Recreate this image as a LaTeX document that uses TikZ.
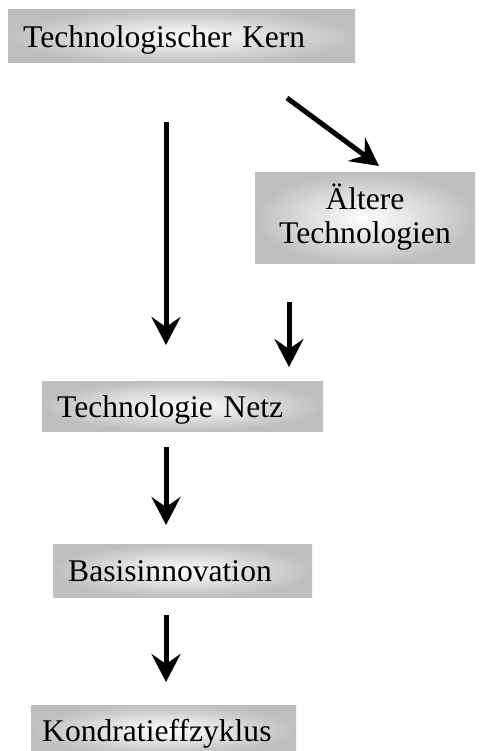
\documentclass[tikz,border=0pt]{standalone}
\usepackage{fontspec}
\setmainfont{Liberation Serif}
\usetikzlibrary{arrows.meta}
\begin{document}
\begin{tikzpicture}[x=1pt,y=-1pt,
    stage/.style ={rectangle, inner color=white, outer color=gray!50, inner xsep=15pt, inner ysep=0pt,
      anchor=west, align=left, text height=29pt, text depth=7pt, font=\fontsize{31.6}{34}\selectfont},
    flow/.style ={line width=5pt, -{Stealth[length=28pt,width=29pt,inset=10pt]}}]
   \useasboundingbox (0,0) rectangle (484,751);
   \node[stage, text width=317pt, minimum height=53pt] (kern) at (8,36.5) {Technologischer Kern};
   \node[stage, anchor=center, align=center, text width=190pt, minimum height=90pt,
         text height=26pt, text depth=42pt] (aeltere) at (365,218) {Ältere\\Technologien};
   \node[stage, text width=251pt, minimum height=50pt] (netz) at (42,406) {Technologie Netz};
   \node[stage, text width=229pt, minimum height=53pt] (basis) at (53,570.5) {Basisinnovation};
   \node[stage, inner xsep=11pt, text width=243pt, minimum height=50pt] (kondratieff) at (31,730) {Kondratieffzyklus};
   % free arrow ends
   \coordinate (kern-down) at (166,122);
   \coordinate (netz-left-in) at (166,345);
   \coordinate (kern-right) at (287,98);
   \coordinate (aeltere-in) at (379,166);
   \coordinate (aeltere-down) at (289,302);
   \coordinate (netz-right-in) at (289,367);
   \coordinate (netz-down) at (166,447);
   \coordinate (basis-in) at (166,525);
   \coordinate (basis-down) at (166,615);
   \coordinate (kondratieff-in) at (166,682);
   \draw[flow] (kern-down) -- (netz-left-in);
   \draw[flow] (kern-right) -- (aeltere-in);
   \draw[flow] (aeltere-down) -- (netz-right-in);
   \draw[flow] (netz-down) -- (basis-in);
   \draw[flow] (basis-down) -- (kondratieff-in);
 \end{tikzpicture}
\end{document}
